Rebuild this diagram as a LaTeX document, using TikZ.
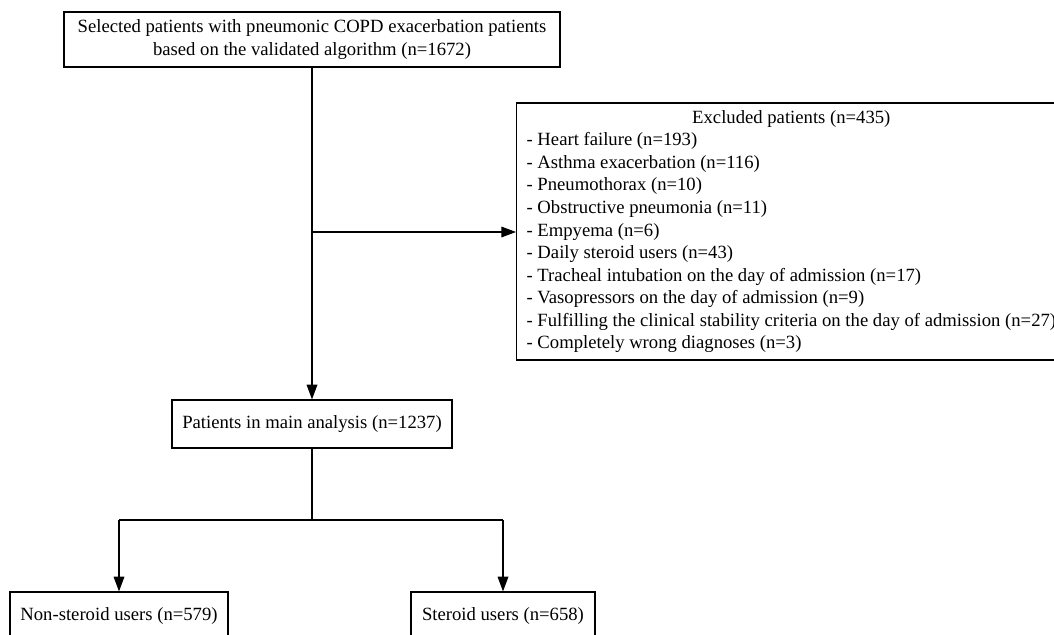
\documentclass[tikz,border=0pt]{standalone}
\usepackage{fontspec}
\setmainfont{Liberation Serif}
\usetikzlibrary{arrows.meta}
\begin{document}
\begin{tikzpicture}[x=0.75pt,y=-0.75pt,
  box/.style={draw, line width=0.9pt, inner sep=0pt, align=center,
    font=\fontsize{14}{16.9}\selectfont},
  conn/.style={line width=0.9pt},
  arr/.style={conn, -{Triangle[length=11pt,width=8pt]}}]
\useasboundingbox (0,0) rectangle (1054,635);
\clip (0,0) rectangle (1054,635);
\node[box, minimum width=372pt, minimum height=41.25pt] (top) at (312,39.5)
  {Selected patients with pneumonic COPD exacerbation patients\\based on the validated algorithm (n=1672)};
\node[box, anchor=west, inner xsep=7.5pt, minimum height=192.75pt] (excl) at (516,231.5)
  {\renewcommand\arraystretch{1}\begin{tabular}{@{}l@{}}
  \multicolumn{1}{@{}c@{}}{Excluded patients (n=435)}\\
  - Heart failure (n=193)\\
  - Asthma exacerbation (n=116)\\
  - Pneumothorax (n=10)\\
  - Obstructive pneumonia (n=11)\\
  - Empyema (n=6)\\
  - Daily steroid users (n=43)\\
  - Tracheal intubation on the day of admission (n=17)\\
  - Vasopressors on the day of admission (n=9)\\
  - Fulfilling the clinical stability criteria on the day of admission (n=27)\\
  - Completely wrong diagnoses (n=3)
  \end{tabular}};
\node[box, minimum width=210pt, minimum height=36pt] (main) at (312,424)
  {Patients in main analysis (n=1237)};
\node[box, minimum width=163.5pt, minimum height=36pt] (non) at (119,616)
  {Non-steroid users (n=579)};
\node[box, minimum width=138pt, minimum height=36pt] (ster) at (503,616)
  {Steroid users (n=658)};
\coordinate (j1) at (312,232);
\coordinate (j2) at (312,520);
\draw[arr] (top.south) -- (main.north);
\draw[arr] (j1) -- (j1 -| excl.west);
\draw[conn] (main.south) -- (j2);
\draw[conn] (non.north |- j2) -- (ster.north |- j2);
\draw[arr] (non.north |- j2) -- (non.north);
\draw[arr] (ster.north |- j2) -- (ster.north);
\end{tikzpicture}
\end{document}
